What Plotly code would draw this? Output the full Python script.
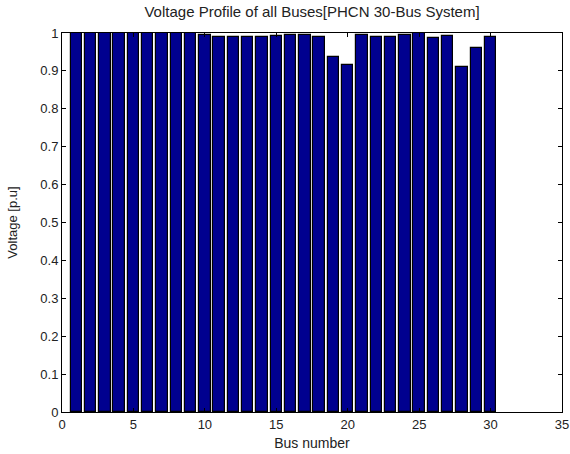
import plotly.graph_objects as go

bus = list(range(1, 31))
voltage = [1.0, 1.0, 1.0, 1.0, 1.0, 1.0, 1.0, 1.0, 1.0, 0.995,
           0.990, 0.990, 0.990, 0.990, 0.991, 0.996, 0.996, 0.990, 0.936, 0.915,
           0.995, 0.990, 0.990, 0.996, 1.0, 0.986, 0.992, 0.911, 0.960, 0.990]

x_ticks = [0, 5, 10, 15, 20, 25, 30, 35]
y_ticks = [0, 0.1, 0.2, 0.3, 0.4, 0.5, 0.6, 0.7, 0.8, 0.9, 1]
y_labels = ["0", "0.1", "0.2", "0.3", "0.4", "0.5", "0.6", "0.7", "0.8", "0.9", "1"]

fig = go.Figure(go.Bar(
    x=bus, y=voltage, width=0.8,
    marker=dict(color="#00008F", line=dict(color="black", width=1.2)),
))

fam = "Liberation Sans, Arial, sans-serif"
tick_font = dict(family=fam, size=13, color="#222222")
axis_common = dict(showline=True, linecolor="black", linewidth=1, mirror="ticks",
                   ticks="inside", ticklen=4, tickcolor="black", showgrid=False,
                   zeroline=False, tickfont=tick_font, automargin=False)

fig.update_layout(
    width=570, height=454,
    margin=dict(l=62, r=8, t=33, b=42, autoexpand=False),
    paper_bgcolor="white", plot_bgcolor="white",
    showlegend=False, bargap=0,
    title=dict(text="Voltage Profile of all Buses[PHCN 30-Bus System]",
               xref="paper", x=0.5, xanchor="center", y=0.985, yanchor="top",
               font=dict(family=fam, size=15, color="#222222")),
    xaxis=dict(range=[0, 35], tickvals=x_ticks, ticktext=[str(v) for v in x_ticks],
               ticklabeloverflow="allow",
               title=dict(text="Bus number", font=dict(family=fam, size=14, color="#222222"), standoff=7),
               **axis_common),
    yaxis=dict(range=[0, 1], tickvals=y_ticks, ticktext=y_labels,
               title=dict(text="Voltage [p.u]", font=dict(family=fam, size=13, color="#222222"), standoff=19),
               **axis_common),
)

fig.write_html("out.html", config={"displayModeBar": False},
               post_script="document.body.style.margin='0';document.body.style.overflow='hidden';")
